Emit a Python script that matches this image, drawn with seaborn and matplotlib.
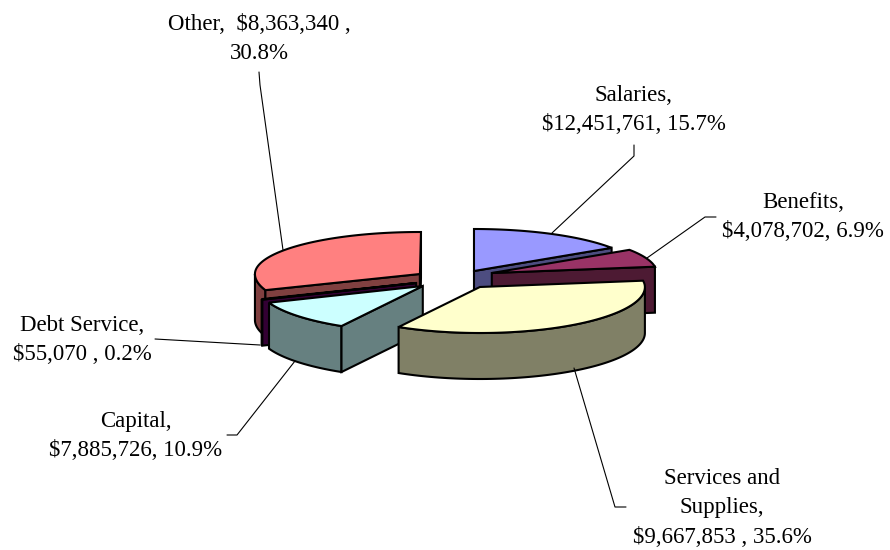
import numpy as np
import matplotlib
matplotlib.use('Agg')
import matplotlib.pyplot as plt
import seaborn as sns

# Data
categories = ['Salaries', 'Benefits', 'Services and Supplies', 'Capital', 'Debt Service', 'Other']
percent = [15.7, 6.9, 35.6, 10.9, 0.2, 30.8]
label_text = [
    'Salaries,\n$12,451,761, 15.7%',
    'Benefits,\n$4,078,702, 6.9%',
    'Services and\nSupplies,\n$9,667,853 , 35.6%',
    'Capital,\n$7,885,726, 10.9%',
    'Debt Service,\n$55,070 , 0.2%',
    'Other,  $8,363,340 ,\n30.8%',
]
top_colors = ['#9999FF', '#993366', '#FFFFCC', '#CCFFFF', '#660066', '#FF8080']

# Layout of the fake 3D pie, in pixels
cx, cy = 447, 279
rx = 165
ry_back, ry_front = 42, 46  # slight perspective
depth = 46
explode = [57, 48, 58, 32, 33, 33]
lift = [-8, -6, 8, 7, 4, -5]
draw_order = [5, 0, 1, 4, 3, 2]  # back to front

label_pos = [(634, 110), (803, 217), (722, 508), (136, 436), (82, 340), (259, 39)]
leaders = [
    [(634, 145), (634, 156), (552, 233)],
    [(716, 217), (705, 217), (647, 258)],
    [(574, 368), (615, 507), (626, 507)],
    [(227, 435), (237, 435), (295, 361)],
    [(155, 339), (260, 345)],
    [(259, 72), (260, 85), (283, 250)],
]

sns.set_theme(style='white')
plt.rcParams['font.family'] = ['Liberation Serif', 'DejaVu Serif']
palette = sns.color_palette(top_colors)

fig, ax = plt.subplots(figsize=(8.9, 5.5), dpi=100)
ax.set_position([0, 0, 1, 1])
ax.set_xlim(0, 890)
ax.set_ylim(550, 0)
ax.axis('off')

edges = np.concatenate([[0], np.cumsum(percent)]) * 3.6


def rim_xy(ox, oy, start, end):
    t = np.radians(np.linspace(start, end, 80))
    c = np.cos(t)
    return ox + rx * np.sin(t), oy - np.where(c > 0, ry_back, ry_front) * c


def wall(ox, oy, angle, color, z):
    ex, ey = rim_xy(ox, oy, angle, angle)
    ax.fill([ox, ex[0], ex[0], ox], [oy, ey[0], ey[0] + depth, oy + depth],
            fc=color, ec='black', lw=1.5, joinstyle='miter', zorder=z)


for z, i in enumerate(draw_order):
    start, end = edges[i], edges[i + 1]
    mid = np.radians((start + end) / 2)
    ox = cx + explode[i] * np.sin(mid)
    oy = cy + lift[i]
    top = palette[i]
    side = tuple(c * 0.5 for c in top)

    # front part of the outer rim
    a, b = max(start, 90), min(end, 270)
    if b > a:
        x, y = rim_xy(ox, oy, a, b)
        ax.fill(np.r_[x, x[::-1]], np.r_[y, y[::-1] + depth],
                fc=side, ec='black', lw=1.5, joinstyle='miter', zorder=z)
    # cut faces that look towards the viewer
    if np.sin(np.radians(start)) < -1e-6:
        wall(ox, oy, start, side, z)
    if np.sin(np.radians(end)) > 1e-6:
        wall(ox, oy, end, side, z)
    # top face
    x, y = rim_xy(ox, oy, start, end)
    ax.fill(np.r_[ox, x], np.r_[oy, y], fc=top, ec='black', lw=1.5,
            joinstyle='miter', zorder=z)

for pts in leaders:
    xs, ys = zip(*pts)
    ax.plot(xs, ys, color='black', lw=0.8, zorder=20)

for text, (x, y) in zip(label_text, label_pos):
    ax.text(x, y, text, ha='center', va='center', fontsize=16.5,
            color='black', linespacing=1.52, zorder=21)

fig.savefig('out.png', dpi=100)
